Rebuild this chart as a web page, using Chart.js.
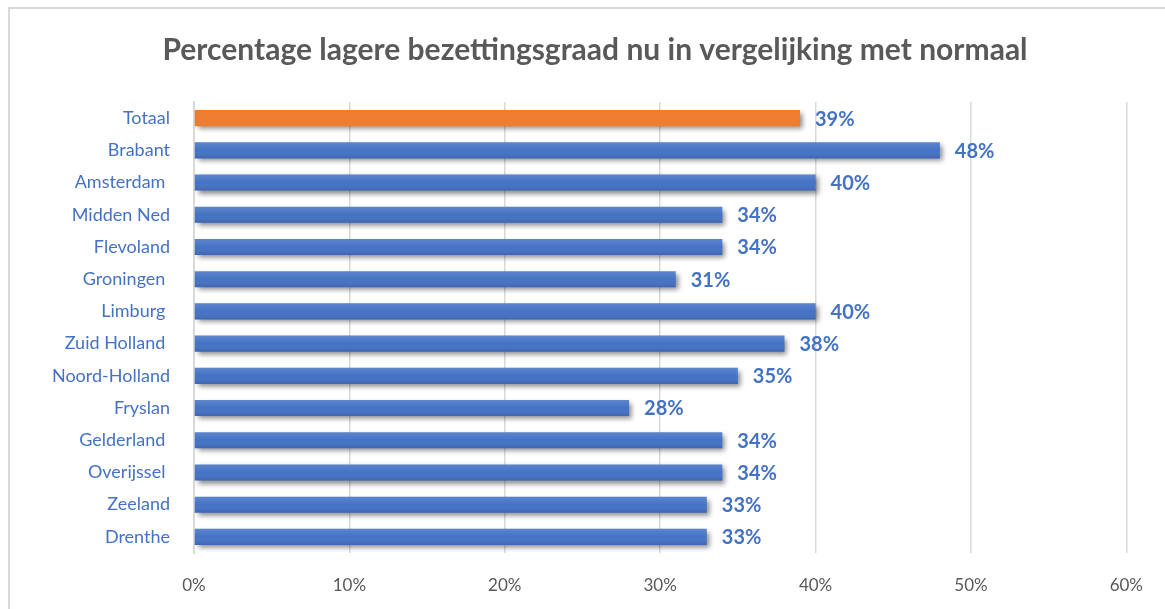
<!DOCTYPE html>
<html>
<head>
<meta charset="utf-8">
<script src="https://cdn.jsdelivr.net/npm/chart.js@4.4.1/dist/chart.umd.min.js"></script>
<style>
  html, body { margin: 0; padding: 0; background: #ffffff; }
  #c { display: block; }
</style>
</head>
<body>
<canvas id="c" width="1165" height="609"></canvas>
<script>
const categories = ["Totaal", "Brabant", "Amsterdam ", "Midden Ned", "Flevoland", "Groningen ", "Limburg ", "Zuid Holland ", "Noord-Holland", "Fryslan", "Gelderland ", "Overijssel ", "Zeeland", "Drenthe"];
const values = [39, 48, 40, 34, 34, 31, 40, 38, 35, 28, 34, 34, 33, 33];
const xTicks = [0, 10, 20, 30, 40, 50, 60];
const titleText = "Percentage lagere bezettingsgraad nu in vergelijking met normaal";

const BLUE = "#4472C4";
const ORANGE = "#ED7D31";
const FONT = "Lato, 'Open Sans', sans-serif";

const barColors = categories.map((c, i) => i === 0 ? ORANGE : BLUE);

const frame = {
  id: "frame",
  afterLayout(chart) {
    if (chart.titleBlock) {
      chart.titleBlock.left = 0;
      chart.titleBlock.right = chart.width + 25;
    }
  },
  beforeDraw(chart) {
    const ctx = chart.ctx;
    ctx.save();
    ctx.fillStyle = "#ffffff";
    ctx.fillRect(0, 0, chart.width, chart.height);
    ctx.strokeStyle = "#d9d9d9";
    ctx.lineWidth = 2;
    ctx.strokeRect(9, 8, chart.width + 10, chart.height + 10);
    ctx.restore();
  }
};

const barEffects = {
  id: "barEffects",
  beforeDatasetsDraw(chart) {
    const ctx = chart.ctx;
    ctx.save();
    ctx.shadowColor = "rgba(0,0,0,0.45)";
    ctx.shadowBlur = 5;
    ctx.shadowOffsetX = 3;
    ctx.shadowOffsetY = 3;
  },
  afterDatasetsDraw(chart) {
    const ctx = chart.ctx;
    ctx.restore();
    const meta = chart.getDatasetMeta(0);
    ctx.save();
    meta.data.forEach((bar, i) => {
      const p = bar.getProps(["x", "y", "base", "height"], true);
      const top = p.y - p.height / 2;
      if (i !== 0) {
        const g = ctx.createLinearGradient(0, top, 0, top + p.height);
        g.addColorStop(0, "rgba(255,255,255,0.14)");
        g.addColorStop(0.5, "rgba(255,255,255,0.0)");
        g.addColorStop(1, "rgba(0,0,40,0.12)");
        ctx.fillStyle = g;
        ctx.fillRect(p.base, top, p.x - p.base, p.height);
      }
      // data label
      ctx.fillStyle = BLUE;
      ctx.font = "bold 20px " + FONT;
      ctx.textAlign = "left";
      ctx.textBaseline = "middle";
      ctx.fillText(values[i] + "%", p.x + 15, p.y + 1);
    });
    ctx.restore();
  }
};

new Chart(document.getElementById("c"), {
  type: "bar",
  data: {
    labels: categories,
    datasets: [{
      data: values,
      backgroundColor: barColors,
      borderWidth: 0,
      barPercentage: 0.5,
      categoryPercentage: 1.0
    }]
  },
  plugins: [frame, barEffects],
  options: {
    indexAxis: "y",
    responsive: false,
    animation: false,
    devicePixelRatio: 1,
    layout: { padding: { left: 0, right: 38, top: 0, bottom: 0 } },
    plugins: {
      legend: { display: false },
      tooltip: { enabled: false },
      title: {
        display: true,
        text: titleText,
        color: "#595959",
        font: { family: FONT, size: 30, weight: "bold", lineHeight: 1.2 },
        padding: { top: 32, bottom: 34 }
      }
    },
    scales: {
      x: {
        min: 0,
        max: 60,
        afterBuildTicks(scale) { scale.ticks = xTicks.map(v => ({ value: v })); },
        afterFit(scale) { scale.height = 56; },
        grid: { color: "#d9d9d9", lineWidth: 1.5, drawTicks: false },
        border: { display: false },
        ticks: {
          color: "#595959",
          font: { family: FONT, size: 17 },
          padding: 22,
          callback: v => v + "%"
        }
      },
      y: {
        afterFit(scale) { scale.width = 194; },
        grid: { display: false },
        border: { display: true, color: "#d9d9d9", width: 2 },
        ticks: {
          color: BLUE,
          font: { family: FONT, size: 18 },
          padding: 16
        }
      }
    }
  }
});
</script>
</body>
</html>
